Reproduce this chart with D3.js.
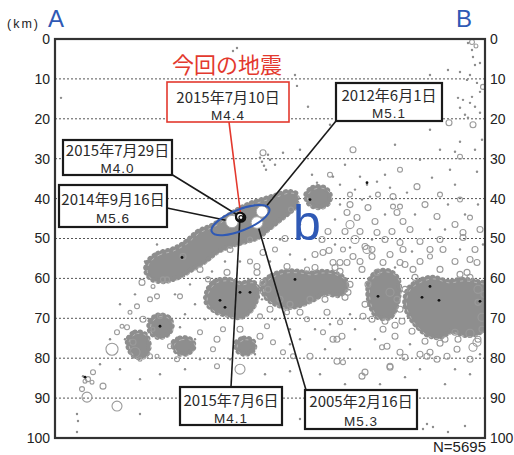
<!DOCTYPE html>
<html>
<head>
<meta charset="utf-8">
<script src="https://cdn.jsdelivr.net/npm/d3@7"></script>
<style>
  body { margin: 0; background: #fff; }
  svg { display: block; font-family: "Liberation Sans", Arial, sans-serif; }
</style>
</head>
<body>
<div id="chart"></div>
<script>
// ---- Depth axis ----
const depthTicks = [0, 10, 20, 30, 40, 50, 60, 70, 80, 90, 100];
const gridDepths = [10, 20, 30, 40, 50, 60, 70, 80, 90];
const totalCount = 5695;

// ---- Dense swarms, outlined as [distance km, depth km] ----
const slabSwarm = [[46.5,55.75],[51.5,53.75],[58.5,52.75],[65,51],[71.5,48.25],[78.5,46.75],[85,44.75],[91.5,42.75],[97.5,41.25],[103.5,40.25],[110,39.25],[116.5,38.25],[120.5,38.75],[120.5,41.75],[116.5,43.75],[111.5,45.75],[106.5,47.75],[101.5,49.75],[95.5,50.75],[88.5,51.75],[81.5,53.25],[75,55.75],[68.5,57.75],[61.5,59.75],[54.5,60.75],[48.5,60.25],[45.5,58.25]];
const swarmCentral = [[76.5,62.75],[80,60.75],[86.5,60.25],[92.5,61.25],[98.5,60.75],[101.5,62.75],[100.5,65.75],[97.5,68.25],[92.5,69.75],[86.5,69.25],[80,68.25],[75.5,65.75]];
const swarmMiddle = [[103.5,61.5],[108.5,59.25],[115,58.25],[121.5,58.25],[127.5,58.75],[133.5,58.25],[140,58.75],[145,60.25],[145.5,62.75],[141.5,64.25],[135,63.75],[129.5,65.25],[122.5,66.75],[116.5,67.25],[110.5,66.5],[105.5,64.75]];
const swarmEastA = [[157.5,60.25],[161.5,58.25],[167.5,58.25],[171.5,60.25],[172,64],[170.5,67.25],[167.5,69.75],[161.5,69.75],[158,67.25],[156.5,63.75]];
const swarmEastB = [[176.5,62.75],[181.5,60.75],[188.5,59.75],[196.5,60.75],[203.5,60.25],[210.5,60.75],[216,61.75],[216,71.75],[211.5,73.75],[205,74.25],[198.5,73.25],[192.5,74.75],[186.5,74.25],[181.5,72.25],[177.5,69.75],[175,66.5]];
const swarmWestA = [[47.5,70.75],[51.5,69.25],[56.5,69.75],[58.5,71.75],[56.5,74],[51.5,74.75],[47.5,73.25]];
const swarmWestB = [[36.5,75.25],[40,73.5],[45,74],[47,76.5],[45.5,79.25],[40.5,79.75],[37,77.75]];
const swarmSmallA = [[59,76.25],[62.5,75],[67.5,75.25],[69.5,77],[66.5,78.75],[61.5,78.75]];
const swarmSmallB = [[90.5,76.25],[94.5,75],[99,75.75],[99.5,77.75],[95.5,79],[91.5,78.25]];
const swarmUpper = [[125.5,39],[129,37.25],[134.5,37.25],[137.5,39],[136.5,41.25],[131.5,42.25],[127,41.25]];

// ---- Individual hypocentres: [distance km, depth km, magnitude] ----
const quakesWest = [[43.5,61,2],[31,73.5,1.5],[36,72.25,1.5],[41,67,1.5],[47.5,65.25,1.5],[49,62,1],[56,60.25,1.5],[44,70.25,2],[52.5,69.5,1.5],[37.5,68.5,1],[33.5,72,1],[39,76,2],[47.5,79.5,1.5],[42.5,80.25,1],[28.5,77.75,4.9],[40,78.5,3.9],[19,83.5,1.5],[24,87,2],[16.5,85.25,1.5],[13.5,87.75,1.5],[16,89.75,3.9],[31,92,3.9],[18.5,86,1],[15,85.75,1]];
const quakesCentral = [[64,54.5,2],[87.5,52.75,2],[54,60.25,1.5],[51,64.5,1.5],[62.5,64.5,1.5],[72.5,57.75,2],[76.5,60.25,1.5],[86,58.5,2],[101,58.5,2],[104,53.5,2],[116,57,2],[126,57.75,1.5],[134,53.5,2],[142.5,56,2],[144,52.75,1.5],[97.5,50.25,1.5],[72.5,73.5,1.5],[81,75.25,2],[79,77.75,1.5],[84,72.75,1.5],[92.5,72.75,2],[102.5,74.5,2],[106,72,1.5],[109,76,1.5],[114,78.5,1.5],[119,79.5,1.5],[127.5,79.5,2],[134,73.5,1.5],[141,75.25,2],[142.5,71,1.5],[92.5,82.75,3.9],[81,82,1.5],[57.5,77,1.5],[61,80.25,1.5],[51,79.5,1],[49,72.75,1],[122.5,68.5,2],[126,70.25,1.5],[116,68.5,1.5],[107.5,67.75,2],[102.5,69.5,1.5],[112.5,65.25,2],[117.5,66.5,2],[135,65.25,2],[145,64.75,2],[147.5,61.5,2],[106.5,62.75,2],[130,57.25,2],[140,57.25,2],[115,50,2],[110,52.75,1.5],[101,57,2],[97.5,55.75,1.5],[104,61,2]];
const quakesEast = [[118,42.75,1.5],[136.5,48.25,2],[137,53,2],[146,43.5,2],[147.5,46.5,3],[151,44.75,2],[156,52.75,3],[158.5,54.5,2],[161,48.5,2],[168.5,48.25,2],[171,43.5,2],[172.5,42,1.5],[174,45.75,2],[177.5,47.75,2],[181,37,2],[174,52.75,2],[155,52,2],[164,56,2],[161,58.5,2],[169,42,1.5],[161.5,39,1.5],[147.5,39,1.5],[169,39.5,2],[191,44.5,2],[194,52.75,2],[204,49.75,2],[207.5,55.25,2],[187.5,54.5,1.5],[179,57.75,2],[139,56,2],[146,56,2],[146.5,63.5,2],[167.5,63.5,3],[171,65.25,2],[211.5,62.75,3],[211.5,66,2],[150,50.25,3],[152.5,48.25,2],[145,48.25,2],[165,50.25,2],[182.5,50.75,2],[200,46.5,2],[207.5,44.75,1.5],[202.5,40.25,1.5],[192.5,39,1.5],[185,41.5,2],[212.5,47.75,2],[210,52.75,2],[200,55.75,2],[182.5,55.75,2],[175,56.5,2],[167.5,54,2],[152.5,55.75,2],[133.5,50.25,2],[130,54,2],[142.5,58.25,2],[153.5,57.75,2],[192.5,57.75,2],[202.5,59,2],[147.5,41.5,2],[156.5,42.25,2],[160,45.75,2],[149,54.5,2],[158.5,52.75,2],[172.5,51,2],[172.5,56,2],[187.5,52.75,2],[192.5,50.25,2],[204,48.5,2],[206,58.5,2],[211,56,2]];
const quakesDeepEast = [[136,68.5,2],[127.5,65.25,2],[143.5,74.5,2],[154,69.5,2],[164,72.75,2],[166,77,2],[163.5,77.25,1.5],[170,74.5,2],[172.5,78.5,2],[167.5,82.25,2],[155,83.5,2],[153.5,84.5,2],[144,81,1.5],[141,80.75,2],[191,80.25,2],[196,79.5,2],[201,77.75,2],[207.5,80.25,2],[211,76,3],[209,77.25,3],[195,75.25,2],[200,73.5,2],[186,79.5,2],[175,79.75,2],[139,75.25,2],[167.5,82,2],[182.5,79,2],[187.5,78.5,2],[178.5,73.25,2],[185,75.75,2],[192.5,76.25,2],[201.5,75.25,2],[207.5,73.75,3],[213.5,72.75,2],[213.5,69.75,3],[175,62.75,2],[172.5,67.75,2],[173.5,70.75,2],[180,59.75,2],[207.5,59.75,2],[214.5,64,2],[211.5,75.25,2],[155,66.5,2],[158.5,70.25,2],[165,70.75,2],[170,71.75,2],[156.5,61.5,2]];
const quakesShallow = [[149,27.75,2],[197,21,2],[209,21.5,2],[214,12,1.5],[208.5,0.75,1.5],[210.5,1.75,1],[104,28.5,2],[202.5,29.5,1.5],[172.5,32.75,1.5],[137.5,34,1.5]];
const microQuakes = [[3,14.75,0.3],[91,2.25,0.3],[89,3,0.3],[120,9,0.3],[121,11.75,0.3],[126.5,17,0.3],[114,28.5,0.3],[102.5,29.75,0.3],[103.5,30.75,0.3],[104.5,31.75,0.3],[105.5,32.75,0.3],[107.5,30.25,0.3],[110,31.5,0.3],[106.5,29,0.3],
  [206.5,1,0.3],[208.5,2.75,0.3],[209,4.5,0.3],[210,6.5,0.3],[212.5,6,0.3],[196.5,7.75,0.3],[202.5,8.25,0.3],[207.5,9,0.3],[187.5,9,0.3],[206,10.25,0.3],[211,11,0.3],[212.5,13.25,0.3],[208.5,14.5,0.3],[201.5,14.75,0.3],[207.5,16,0.3],[210,17,0.3],[202.5,17.25,0.3],[212.5,18.5,0.3],[205,19,0.3],[204,15.25,0.3],[206.5,19.75,0.3],[202.5,25.75,0.3],[200,28.25,0.3],[211,33.25,0.3],[197.5,32.75,0.3],[188.5,34.75,0.3],[176,38.5,0.3],[167.5,37.25,0.3],[161,35.75,0.3],[156,36.5,0.3],[152.5,34.5,0.3],[157.5,39.5,0.3],[131,36,0.3],[128.5,34,0.3],[139,34.5,0.3],[213.5,25.25,0.3],[210,27.75,0.3],[192.5,27.75,0.3],[182.5,30.25,0.3],[170,26.5,0.3],[162.5,30.25,0.3],[145,31.5,0.3],[122.5,27.75,0.3],[137.5,21.5,0.3],[187.5,22.75,0.3],[200,36.5,0.3],[142.5,36.5,0.3],[150,37.75,0.3],[165,34,0.3],
  [122.5,46.5,0.3],[127.5,44,0.3],[140,45.25,0.3],[142.5,41.5,0.3],[153.5,40.25,0.3],[165,44,0.3],[180,44,0.3],[187.5,47.75,0.3],[196.5,41.5,0.3],[205,44,0.3],[211.5,41.5,0.3],[214,51.5,0.3],[202.5,52.75,0.3],[195,47.75,0.3],[178.5,53.25,0.3],[170,57.25,0.3],[158.5,50.25,0.3],[147.5,52.25,0.3],[140,51.5,0.3],[125,55.25,0.3],[117.5,54,0.3],[112.5,50.25,0.3],[107.5,55.75,0.3],[92.5,55.75,0.3],[85,55.75,0.3],[78.5,58.25,0.3],[67.5,61.5,0.3],[60,64,0.3],[70,66.5,0.3],[65,69,0.3],[57.5,69.75,0.3],[62.5,72.25,0.3],[70,75.25,0.3],[75,70.25,0.3],[103.5,65.25,0.3],[110,70.25,0.3],[117.5,72.75,0.3],[122.5,75.25,0.3],[130,72.75,0.3],[137.5,71.5,0.3],[147.5,69,0.3],[150,72.75,0.3],[160,75.25,0.3],[177.5,76.5,0.3],[182.5,82.75,0.3],[200,82.75,0.3],[212.5,79,0.3],[147.5,77.75,0.3],[135,77.75,0.3],[117.5,76.5,0.3],[100,79,0.3],[87.5,80.25,0.3],[72.5,80.25,0.3],[65,82.75,0.3],[105,84,0.3],[117.5,83.25,0.3],[132.5,84,0.3],[145,86.5,0.3],[162.5,86.5,0.3],[175,84.75,0.3],[195,86.5,0.3],[207.5,84,0.3],[52.5,84,0.3],[42.5,85.25,0.3],[32.5,82.75,0.3],[27.5,75.25,0.3],[32.5,66.5,0.3],[40,64,0.3],[45,55.75,0.3],[51,51.5,0.3],[35,75.25,0.3],[22.5,81.5,0.3],
  [11,94,0.3],[11.5,95.75,0.3],[11,98.5,0.3],[14,84.5,0.3],[184,97.75,0.3],[186,96.5,0.3],[189,97.25,0.3],[196.5,98.5,0.3],[205,97,0.3],[70,94,0.3],[87.5,91.5,0.3],[122.5,95.25,0.3],[147.5,92.75,0.3],[162.5,90.25,0.3],[177.5,89,0.3],[137.5,89,0.3],[100,89,0.3],[52.5,90.25,0.3],[42.5,94,0.3]];
const recentQuakes = [[82.5,65.5,0.5],[85,67.25,0.5],[92.5,63.5,0.5],[97.5,63.5,0.5],[120,60.25,0.5],[161.5,64.5,0.5],[183.5,64.75,0.5],[192,65.5,0.5],[187.5,62,0.5],[52.5,72,0.5],[127.5,40.25,0.5],[156,36,0.5],[15,84.75,0.5],[63.5,54.75,0.5],[212.5,65.75,0.5]];

// ---- Notable events ----
const notableDates = ["2014年9月16日", "2012年6月1日", "2005年2月16日", "2015年7月29日", "2015年7月6日", "2015年7月10日"];
const notableMags  = [5.6, 5.1, 5.3, 4.0, 4.1, 4.4];
const notableDist  = [88.5, 103.5, 101, 92.5, 92.5, 93];
const notableDepth = [45.75, 43.25, 46, 44.5, 44.75, 44.75];
const currentSeries = ["2015年7月29日", "2015年7月6日", "2015年7月10日"];
const mainShock = "2015年7月10日";

const W = 514, H = 455;
const x = d3.scaleLinear().domain([0, 215]).range([55, 485]);
const y = d3.scaleLinear().domain([0, 100]).range([39, 438]);
const r = d3.scaleLinear().domain([0, 6]).range([0.9, 7.2]);
const gray = "#8e8e8e";
const ringGray = "#9a9a9a";
const blue = "#2f59b5";
const red = "#e3392e";
const cjk = "'Noto Sans CJK JP', sans-serif";

const svg = d3.select("#chart").append("svg").attr("width", W).attr("height", H);
svg.append("rect").attr("width", W).attr("height", H).attr("fill", "#fff");

svg.append("clipPath").attr("id", "plot-clip")
  .append("rect").attr("x", x(0)).attr("y", y(0))
  .attr("width", x(215) - x(0)).attr("height", y(100) - y(0));

// dotted depth grid
svg.append("g").selectAll("line").data(gridDepths).join("line")
  .attr("x1", x(0)).attr("x2", x(215))
  .attr("y1", d => y(d)).attr("y2", d => y(d))
  .attr("stroke", "#555").attr("stroke-width", 1).attr("stroke-dasharray", "2,2");

const plot = svg.append("g").attr("clip-path", "url(#plot-clip)");

// dense swarms: solid core plus a beaded rim of overlapping events
const outline = d3.line().x(d => x(d[0])).y(d => y(d[1])).curve(d3.curveCatmullRomClosed);
const swarms = [slabSwarm, swarmCentral, swarmMiddle, swarmEastA, swarmEastB, swarmWestA, swarmWestB, swarmSmallA, swarmSmallB, swarmUpper];
const swarmG = plot.append("g");
swarmG.selectAll("path.core").data(swarms).join("path")
  .attr("class", "core")
  .attr("d", outline)
  .attr("fill", gray).attr("stroke", gray).attr("stroke-width", 2).attr("stroke-linejoin", "round");
swarmG.selectAll("path.rim").data(swarms).join("path")
  .attr("class", "rim")
  .attr("d", outline)
  .attr("fill", "none").attr("stroke", gray).attr("stroke-width", 5.5)
  .attr("stroke-linecap", "round").attr("stroke-dasharray", "0.1,5");
swarmG.selectAll("path.rim2").data(swarms).join("path")
  .attr("class", "rim2")
  .attr("d", outline)
  .attr("fill", "none").attr("stroke", "#b5b5b5").attr("stroke-width", 1)
  .attr("stroke-dasharray", "3,4").attr("transform", "translate(1.5,1.5)");

// individual hypocentres
const events = [].concat(quakesWest, quakesCentral, quakesEast, quakesDeepEast, quakesShallow, microQuakes);
plot.append("g").selectAll("circle").data(events).join("circle")
  .attr("cx", d => x(d[0])).attr("cy", d => y(d[1])).attr("r", d => r(d[2]))
  .attr("fill", d => d[2] < 0.8 ? gray : "none")
  .attr("stroke", d => d[2] < 0.8 ? "none" : ringGray)
  .attr("stroke-width", 1.1);

plot.append("g").selectAll("circle").data(recentQuakes).join("circle")
  .attr("cx", d => x(d[0])).attr("cy", d => y(d[1])).attr("r", d => r(d[2]))
  .attr("fill", "#111");

const notable = notableDates.map((date, i) => ({
  date, mag: notableMags[i], dist: notableDist[i], depth: notableDepth[i],
  current: currentSeries.includes(date)
}));
const byDate = Object.fromEntries(notable.map(d => [d.date, d]));

// callout boxes (layout in px)
const callouts = [
  { date: "2015年7月10日", bx: 167, by: 82,  w: 122, h: 40, t1: 20.5, t2: 37.5, ax: 229, ay: 122 },
  { date: "2012年6月1日",  bx: 336, by: 83,  w: 106, h: 38, t1: 18,   t2: 35,   ax: 336, ay: 121 },
  { date: "2015年7月29日", bx: 63,  by: 140, w: 109, h: 35, t1: 15.5, t2: 32.5, ax: 171, ay: 174 },
  { date: "2014年9月16日", bx: 59,  by: 185, w: 108, h: 42, t1: 20,   t2: 38,   ax: 167, ay: 208 },
  { date: "2015年7月6日",  bx: 180, by: 387, w: 102, h: 38, t1: 18.5, t2: 35.5, ax: 231, ay: 387 },
  { date: "2005年2月16日", bx: 305, by: 390, w: 112, h: 39, t1: 17,   t2: 36,   ax: 306, ay: 390 }
];

// leader lines
svg.append("g").selectAll("line").data(callouts).join("line")
  .attr("x1", d => d.ax).attr("y1", d => d.ay)
  .attr("x2", d => x(byDate[d.date].dist)).attr("y2", d => y(byDate[d.date].depth))
  .attr("stroke", d => d.date === mainShock ? red : "#1a1a1a")
  .attr("stroke-width", 1.6);

// notable events: older large ones in white, current series as black rings
const notableG = svg.append("g");
notableG.selectAll("circle.old").data(notable.filter(d => !d.current)).join("circle")
  .attr("class", "old")
  .attr("cx", d => x(d.dist)).attr("cy", d => y(d.depth)).attr("r", d => r(d.mag) - 0.6)
  .attr("fill", "#fff").attr("stroke", "#a8a8a8").attr("stroke-width", 1);
notableG.selectAll("circle.cur").data(notable.filter(d => d.current).sort((a, b) => b.mag - a.mag)).join("circle")
  .attr("class", "cur")
  .attr("cx", d => x(d.dist)).attr("cy", d => y(d.depth)).attr("r", d => r(d.mag) - 1.2)
  .attr("fill", "#fff").attr("stroke", "#111").attr("stroke-width", 2);
notableG.append("circle")
  .attr("cx", x(byDate[mainShock].dist)).attr("cy", y(byDate[mainShock].depth)).attr("r", 2)
  .attr("fill", "none").attr("stroke", "#111").attr("stroke-width", 1.2);

// focus ellipse around the current series
const main = byDate[mainShock];
svg.append("ellipse")
  .attr("transform", `translate(${x(main.dist) - 0.5},${y(main.depth) + 2.5}) rotate(-22)`)
  .attr("rx", 31).attr("ry", 10.5)
  .attr("fill", "none").attr("stroke", blue).attr("stroke-width", 2);

// callout boxes and text
const boxes = svg.append("g").selectAll("g").data(callouts).join("g");
boxes.append("rect")
  .attr("x", d => d.bx).attr("y", d => d.by).attr("width", d => d.w).attr("height", d => d.h)
  .attr("fill", "#fff")
  .attr("stroke", d => d.date === mainShock ? red : "#1a1a1a")
  .attr("stroke-width", d => d.date === mainShock ? 1.6 : 2.2);
boxes.append("text")
  .attr("x", d => d.bx + d.w / 2).attr("y", d => d.by + d.t1)
  .attr("text-anchor", "middle")
  .attr("font-family", cjk).attr("font-size", 15)
  .attr("fill", "#2a2a2a")
  .text(d => d.date);
boxes.append("text")
  .attr("x", d => d.bx + d.w / 2).attr("y", d => d.by + d.t2)
  .attr("text-anchor", "middle")
  .attr("font-family", "'Liberation Sans', Arial, sans-serif").attr("font-size", 13.5)
  .attr("letter-spacing", 1)
  .attr("fill", "#2a2a2a")
  .text(d => "M" + byDate[d.date].mag.toFixed(1));

svg.append("text")
  .attr("x", 227).attr("y", 73).attr("text-anchor", "middle")
  .attr("font-family", cjk).attr("font-size", 22)
  .attr("fill", red).text("今回の地震");

svg.append("text")
  .attr("x", 293).attr("y", 240)
  .attr("font-family", "'Liberation Sans', Arial, sans-serif").attr("font-size", 50)
  .attr("fill", blue).text("b");

// depth axes on both sides
const axL = d3.axisLeft(y).tickValues(depthTicks).tickSize(0).tickPadding(5);
const axR = d3.axisRight(y).tickValues(depthTicks).tickSize(0).tickPadding(5);
const gL = svg.append("g").attr("transform", `translate(${x(0)},0)`).call(axL);
const gR = svg.append("g").attr("transform", `translate(${x(215)},0)`).call(axR);
[gL, gR].forEach(g => {
  g.select(".domain").remove();
  g.selectAll("text").attr("font-size", 14).attr("fill", "#222")
    .attr("font-family", "'Liberation Sans', Arial, sans-serif");
});

// frame
svg.append("rect")
  .attr("x", x(0)).attr("y", y(0)).attr("width", x(215) - x(0)).attr("height", y(100) - y(0))
  .attr("fill", "none").attr("stroke", "#333").attr("stroke-width", 2.2);

svg.append("text").attr("x", 7).attr("y", 28)
  .attr("font-size", 12.5).attr("letter-spacing", 2).attr("fill", "#222").text("(km)");
svg.append("text").attr("x", 48).attr("y", 27)
  .attr("font-size", 24).attr("fill", blue).text("A");
svg.append("text").attr("x", 456).attr("y", 27)
  .attr("font-size", 24).attr("fill", blue).text("B");
svg.append("text").attr("x", 486).attr("y", 452).attr("text-anchor", "end")
  .attr("font-size", 15).attr("fill", "#222").text("N=" + totalCount);
</script>
</body>
</html>
